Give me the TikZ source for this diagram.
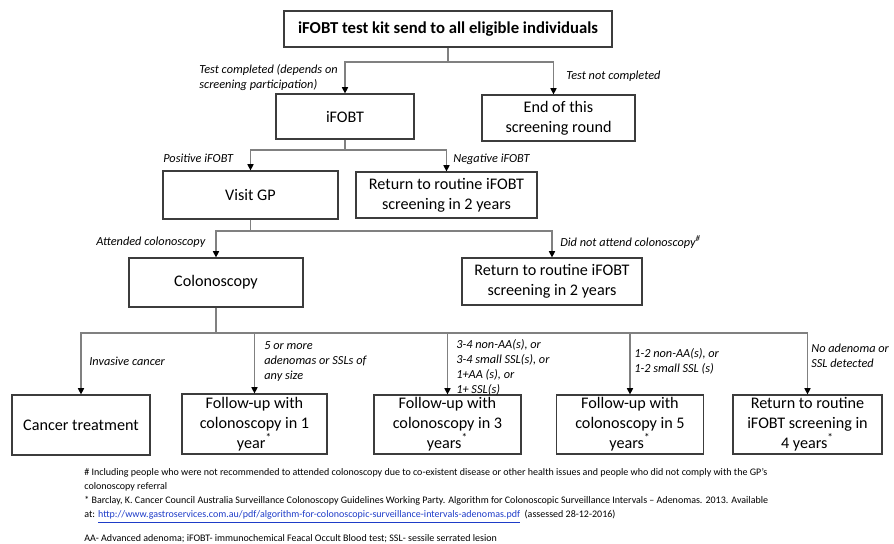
\documentclass[tikz,border=0pt]{standalone}
\usepackage{fontspec}
\setmainfont{Carlito}
\usetikzlibrary{arrows.meta}
\definecolor{boxgray}{RGB}{60,60,60}
\definecolor{linegray}{RGB}{128,128,128}
\definecolor{linkblue}{RGB}{30,60,200}

\begin{document}
\begin{tikzpicture}[x=0.02cm, y=-0.02cm,
    box/.style={draw=boxgray, line width=0.7pt, align=center, inner sep=0pt,
                font=\fontsize{9.2}{11.3}\selectfont},
    lbl/.style={anchor=north west, align=left, inner sep=0pt,
                font=\fontsize{7}{8.5}\selectfont\itshape},
    note/.style={anchor=north west, align=left, inner sep=0pt,
                font=\fontsize{5.7}{8.2}\selectfont},
    conn/.style={draw=linegray, line width=0.6pt},
    arr/.style={conn, -{Triangle[length=3.5pt,width=3.5pt,color=black]}}]
                \useasboundingbox (0,0) rectangle (894,544);
                % boxes
                \node[box, minimum width=6.56cm, minimum height=0.72cm, font=\fontsize{9.5}{11.5}\selectfont\bfseries] (kit) at (448,29) {iFOBT test kit send to all eligible individuals};
                \node[box, minimum width=2.76cm, minimum height=0.9cm] (ifobt) at (345,116.5) {iFOBT};
                \node[box, minimum width=3.06cm, minimum height=0.92cm] (endround) at (558.5,118) {End of this\\screening round};
                \node[box, minimum width=3.5cm, minimum height=0.96cm] (gp) at (250.5,195) {Visit GP};
                \node[box, minimum width=3.62cm, minimum height=0.92cm] (back1) at (446.5,195) {Return to routine iFOBT\\screening in 2 years};
                \node[box, minimum width=3.48cm, minimum height=0.98cm] (colon) at (216,282.5) {Colonoscopy};
                \node[box, minimum width=3.6cm, minimum height=0.94cm] (back2) at (552,281.5) {Return to routine iFOBT\\screening in 2 years};
                \node[box, minimum width=2.76cm, minimum height=1.2cm] (cancer) at (81,425) {Cancer treatment};
                \node[box, minimum width=2.9cm, minimum height=1.2cm] (fu1) at (254.5,424) {Follow-up with\\colonoscopy in 1\\year\textsuperscript{*}};
                \node[box, minimum width=2.94cm, minimum height=1.18cm] (fu3) at (447.5,424.5) {Follow-up with\\colonoscopy in 3\\years\textsuperscript{*}};
                \node[box, minimum width=2.94cm, minimum height=1.18cm] (fu5) at (630,424.5) {Follow-up with\\colonoscopy in 5\\years\textsuperscript{*}};
                \node[box, minimum width=2.98cm, minimum height=1.18cm] (back4) at (807.5,424.5) {Return to routine\\iFOBT screening in\\4 years\textsuperscript{*}};
                % branch points
                \coordinate (b1) at (448,62);
                \coordinate (b2) at (345,150);
                \coordinate (b3) at (250.5,231);
                \coordinate (b4) at (216,333);
                % connectors
                \draw[conn] (kit.south) -- (b1);
                \draw[arr] (b1) -| (ifobt.north);
                \draw[arr] (b1) -| ([xshift=-0.1cm]endround.north);
                \draw[conn] (ifobt.south) -- (b2);
                \draw[arr] (b2) -| (gp.north);
                \draw[arr] (b2) -| (back1.north);
                \draw[conn] (gp.south) -- (b3);
                \draw[arr] (b3) -| (colon.north);
                \draw[arr] (b3) -| (back2.north);
                \draw[conn] (colon.south) -- (b4);
                \draw[arr] (b4) -| (cancer.north);
                \draw[arr] (b4) -| (fu1.north);
                \draw[arr] (b4) -| (fu3.north);
                \draw[arr] (b4) -| (fu5.north);
                \draw[arr] (b4) -| (back4.north);
                % connector labels
                \node[lbl] (ltest) at (199,64) {Test completed (depends on\\screening participation)};
                \node[lbl] (lnotest) at (566,71) {Test not completed};
                \node[lbl] (lpos) at (163,154) {Positive iFOBT};
                \node[lbl] (lneg) at (453,154) {Negative iFOBT};
                \node[lbl] (latt) at (96,237) {Attended colonoscopy};
                \node[lbl] (lnoatt) at (560,235) {Did not attend colonoscopy\textsuperscript{\#}};
                \node[lbl] (linv) at (89,357) {Invasive cancer};
                \node[lbl] (lfive) at (264,341) {5 or more\\adenomas or SSLs of\\any size};
                \node[lbl] (lthree) at (456,339) {3-4 non-AA(s), or\\3-4 small SSL(s), or\\1+AA (s), or\\1+ SSL(s)};
                \node[lbl] (lone) at (634,348) {1-2 non-AA(s), or\\1-2 small SSL (s)};
                \node[lbl] (lnone) at (811,344) {No adenoma or\\SSL detected};
                % footnotes
                \node[note] (fn1) at (84,468) {\# Including people who were not recommended to attended colonoscopy due to co-existent disease or other health issues and people who did not comply with the GP's\\colonoscopy referral};
                \node[note] (fn2) at (84,496) {* Barclay, K. Cancer Council Australia Surveillance Colonoscopy Guidelines Working Party. Algorithm for Colonoscopic Surveillance Intervals -- Adenomas. 2013. Available\\at: \textcolor{linkblue}{\underline{http://www.gastroservices.com.au/pdf/algorithm-for-colonoscopic-surveillance-intervals-adenomas.pdf}}\ \ (assessed 28-12-2016)};
                \node[note] (fn3) at (84,534) {AA- Advanced adenoma; iFOBT- immunochemical Feacal Occult Blood test; SSL- sessile serrated lesion};
            \end{tikzpicture}
\end{document}
